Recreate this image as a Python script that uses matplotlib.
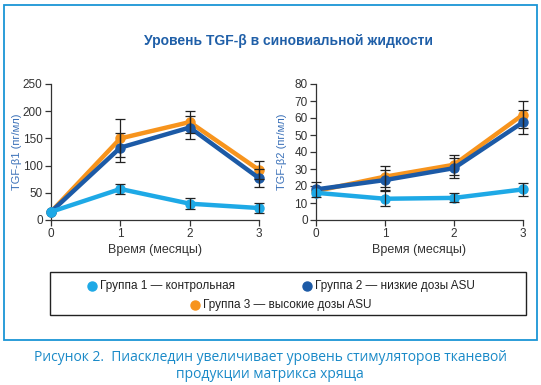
import matplotlib
matplotlib.use("Agg")
import matplotlib.pyplot as plt
from matplotlib.patches import Rectangle
from matplotlib.lines import Line2D

months = [0, 1, 2, 3]
group_names = ["Группа 1 — контрольная", "Группа 2 — низкие дозы ASU", "Группа 3 — высокие дозы ASU"]
group_colors = ["#1ea9e6", "#1c5aa6", "#f7941d"]

# TGF-beta1 (pg/ml)
b1_g1 = [15, 57, 30, 22]
b1_g1_err = [0, 10, 10, 9]
b1_g2 = [15, 133, 170, 77]
b1_g2_err = [0, 27, 22, 16]
b1_g3 = [15, 150, 180, 92]
b1_g3_err = [0, 35, 20, 17]

# TGF-beta2 (pg/ml)
b2_g1 = [16, 12.5, 13, 18]
b2_g1_err = [0, 4.5, 2.7, 3.7]
b2_g2 = [18, 23.5, 30.5, 57.5]
b2_g2_err = [4.2, 6, 6, 7]
b2_g3 = [17, 25.5, 32.5, 62]
b2_g3_err = [0, 6, 6, 8]

title = "Уровень TGF-β в синовиальной жидкости"
xlabel = "Время (месяцы)"
ylabel1 = "TGF-β1 (пг/мл)"
ylabel2 = "TGF-β2 (пг/мл)"
yticks1 = [0, 50, 100, 150, 200, 250]
yticks2 = [0, 10, 20, 30, 40, 50, 60, 70, 80]
caption = "Рисунок 2.  Пиаскледин увеличивает уровень стимуляторов тканевой\nпродукции матрикса хряща"

SANS = ["Liberation Sans", "DejaVu Sans"]
plt.rcParams["font.family"] = SANS

W, H = 541, 385
fig = plt.figure(figsize=(W / 100, H / 100), dpi=100)

def fx(px):
    return px / W

def fy(py):
    return 1 - py / H

frame_color = "#1a95d5"
fig.patches.append(Rectangle((fx(4), fy(340)), fx(533), (340 - 5) / H,
                             transform=fig.transFigure, fill=False,
                             edgecolor=frame_color, linewidth=1.3))

fig.text(fx(288), fy(41), title, ha="center", va="center", fontsize=10,
         fontweight="bold", color="#1f5fa8")

def make_axes(left_px, right_px, ylim, yticks, ylabel, data):
    ax = fig.add_axes([fx(left_px), fy(220), (right_px - left_px) / W, (220 - 84) / H])
    for vals, errs, col in data:
        ax.plot(months, vals, color=col, lw=3.2, marker="o", ms=6.5, zorder=2,
                solid_capstyle="round", clip_on=False)
    for vals, errs, col in data:
        xs = [m for m, e in zip(months, errs) if e > 0]
        ys = [v for v, e in zip(vals, errs) if e > 0]
        es = [e for e in errs if e > 0]
        ax.errorbar(xs, ys, yerr=es, fmt="none", ecolor="#222222",
                    elinewidth=0.9, capsize=3.6, capthick=0.9, zorder=3, clip_on=False)
    ax.set_xlim(0, 3)
    ax.set_ylim(*ylim)
    ax.set_xticks(months)
    ax.set_yticks(yticks)
    for s in ["top", "right"]:
        ax.spines[s].set_visible(False)
    for s in ["left", "bottom"]:
        ax.spines[s].set_color("#333333")
        ax.spines[s].set_linewidth(0.9)
        ax.spines[s].set_zorder(1)
    ax.tick_params(direction="out", length=4, width=0.9, colors="#333333",
                   labelsize=8.5, pad=2)
    ax.set_xlabel(xlabel, fontsize=9, color="#333333", labelpad=3)
    ax.set_ylabel(ylabel, fontsize=8, color="#3a70b8")
    w = right_px - left_px
    ax.yaxis.set_label_coords(-29.0 / w, 0.5)
    ax.patch.set_alpha(0)
    return ax

ax1 = make_axes(51, 259, (0, 250), yticks1, ylabel1,
                [(b1_g3, b1_g3_err, group_colors[2]),
                 (b1_g2, b1_g2_err, group_colors[1]),
                 (b1_g1, b1_g1_err, group_colors[0])])
ax2 = make_axes(316, 523, (0, 80), yticks2, ylabel2,
                [(b2_g3, b2_g3_err, group_colors[2]),
                 (b2_g2, b2_g2_err, group_colors[1]),
                 (b2_g1, b2_g1_err, group_colors[0])])

# Legend box
fig.patches.append(Rectangle((fx(50), fy(315)), fx(526 - 50), (315 - 272) / H,
                             transform=fig.transFigure, fill=False,
                             edgecolor="#222222", linewidth=1.0))
legend_pos = [(92, 286), (307, 286), (195, 305)]
for (mx, my), name, col in zip(legend_pos, group_names, group_colors):
    fig.lines.append(Line2D([fx(mx)], [fy(my)], transform=fig.transFigure,
                            marker="o", ms=6.5, color=col, linestyle="none"))
    fig.text(fx(mx + 8), fy(my), name, ha="left", va="center", fontsize=8.5,
             color="#222222")

fig.text(fx(270), fy(366), caption, ha="center", va="center", fontsize=10,
         color="#1a8ac8", family=["Open Sans", "DejaVu Sans"], linespacing=1.25)

fig.savefig("out.png", dpi=100)
